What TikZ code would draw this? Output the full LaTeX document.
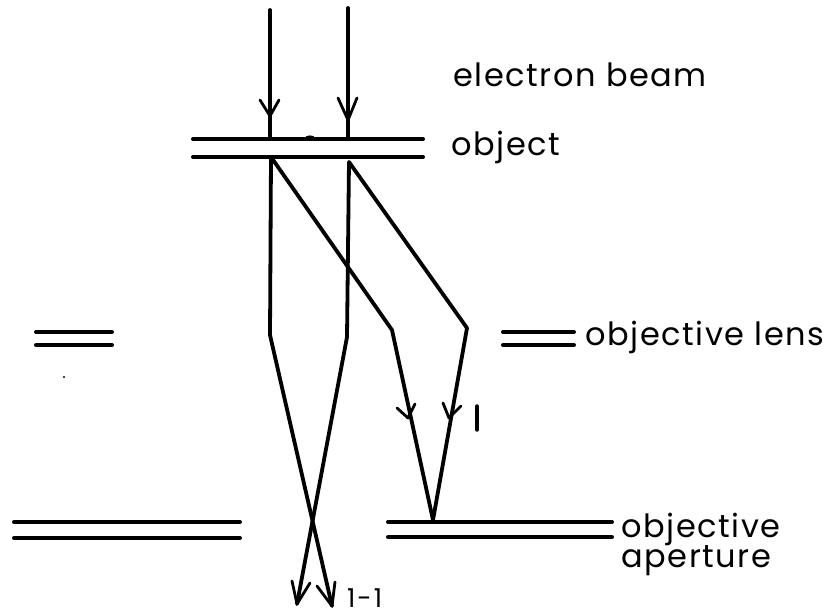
\documentclass[tikz,border=0pt]{standalone}
\usepackage{fontspec}
\setmainfont{Poppins}[LetterSpace=5]
\usetikzlibrary{arrows.meta}
\tikzset{
 beam/.style={line width=3.8pt,line cap=round,line join=round,black},
 plate/.style={line width=4pt,line cap=round,black},
 barb/.style={line width=2.8pt,line cap=round,line join=round,black},
 lbl/.style={anchor=base west,inner sep=0pt,font=\fontsize{32}{34}\selectfont,text=black},
 lblsmall/.style={anchor=base west,inner sep=0pt,font=\fontsize{26}{28}\selectfont,text=black},
 lone/.style={line width=3.4pt,line cap=round,black}
}
\begin{document}
\begin{tikzpicture}[x=1pt,y=-1pt]
\useasboundingbox (0,0) rectangle (833,616);
\fill[white] (0,0) rectangle (833,616);
% plates
\foreach \n/\xa/\xb/\ya/\yb in {ob/193/423/139/157, la/36/112/332/345, lb/503/574/332/345, aa/14/240/522/538, ab/388/612/522/537}{
 \coordinate (\n1) at (\xa,\ya); \coordinate (\n2) at (\xb,\ya);
 \coordinate (\n3) at (\xa,\yb); \coordinate (\n4) at (\xb,\yb);
 \draw[plate] (\n1) -- (\n2); \draw[plate] (\n3) -- (\n4);
}
\fill (310,138) ellipse [x radius=5pt,y radius=2.6pt];
\fill (64,377) circle [radius=1.2pt];
% beam points
\coordinate (A0) at (270,10); \coordinate (A1) at (270,139);
\coordinate (B0) at (348,8); \coordinate (B1) at (348,139);
\coordinate (A2) at (271,157); \coordinate (B2) at (349,162);
\coordinate (A3) at (270,335); \coordinate (B3) at (347,337);
\coordinate (C) at (392,330); \coordinate (D) at (467,328);
\coordinate (F) at (433,520);
\coordinate (E1) at (332,606); \coordinate (E2) at (297,604);
\draw[beam] (A0) -- (A1);
\draw[beam] (B0) -- (B1);
\draw[beam] (A2) -- (A3) -- (E1);
\draw[beam] (B2) -- (B3) -- (E2);
\draw[beam] (A2) -- (C) -- (F);
\draw[beam] (B2) -- (D) -- (F);
% arrowheads
\draw[barb] (260,100) -- (270,116) -- (279,100);
\draw[barb] (338,98) -- (348,120) -- (357,98);
\draw[barb] (397,408) -- (408,418) -- (415,404);
\draw[barb] (443,403) -- (449,418) -- (461,406);
\draw[barb] (292,581) -- (297,604) -- (310,583);
\draw[barb] (317,586) -- (332,606) -- (335,582);
% labels
\node[lbl] (l1) at (453,86) {electron beam};
\node[lbl] (l2) at (451,155) {object};
\node[lbl] (l3) at (585,345) {objective lens};
\node[lbl] (l4) at (621,537) {objective};
\node[lbl] (l5) at (621,567) {aperture};
\coordinate (i1) at (477,406); \coordinate (i2) at (477,430);
\draw[lone] (i1) -- (i2);
\node[lblsmall] (l7) at (347,607) {1\kern2pt-\kern2pt1};
\end{tikzpicture}
\end{document}
